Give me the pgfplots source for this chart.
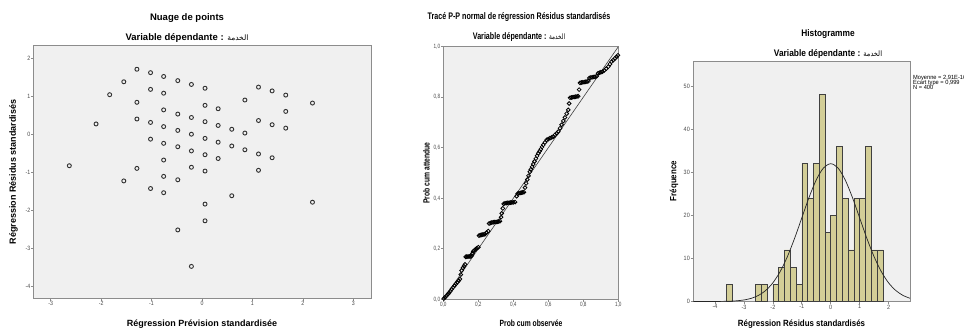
\documentclass[border=0pt]{standalone}
\usepackage{pgfplots}
\pgfplotsset{compat=1.18}
\usepackage{fontspec}
\setmainfont{Liberation Sans}
\newfontfamily\arabicfont[Script=Arabic]{DejaVu Sans}
\newfontfamily\arabicmid[Script=Arabic,FakeStretch=0.75]{DejaVu Sans}
\newfontfamily\arabichist[Script=Arabic,FakeStretch=0.88]{DejaVu Sans}
\newfontfamily\midfont[FakeStretch=0.75]{Liberation Sans}
\newfontfamily\histfont[FakeStretch=0.88]{Liberation Sans}
\newfontfamily\tickfont[FakeStretch=0.85]{Liberation Sans}
\newfontfamily\statfont[FakeStretch=0.95]{Liberation Sans}
\TeXXeTstate=1
\newcommand{\fs}[1]{\fontsize{#1}{#1}\selectfont}
\definecolor{panelbg}{HTML}{F0F0F0}
\definecolor{framecol}{HTML}{8C8C8C}
\definecolor{tickcol}{HTML}{4A4A4A}
\definecolor{barfill}{HTML}{D3CE97}
\definecolor{markcol}{HTML}{303030}
\pgfplotsset{
  spss/.style={
    scale only axis, anchor=south west,
    axis background/.style={fill=panelbg},
    axis line style={draw=framecol, line width=0.9bp},
    tick style={draw=framecol, line width=0.6bp},
    major tick length=2.5bp, tick align=outside,
    xtick pos=left, ytick pos=left,
    xticklabel style={font={\tickfont\fs{6.2bp}}, text=tickcol, inner sep=0.5bp},
    yticklabel style={font={\tickfont\fs{6.2bp}}, text=tickcol, inner sep=0.5bp},
  }
}
\begin{document}
\begin{tikzpicture}
\path[use as bounding box] (0,0) rectangle (964bp,329bp);
% ---------------- scatter ----------------
\begin{axis}[spss, at={(33.5bp,30.7bp)}, width=337.5bp, height=252.6bp,
  xmin=-3.34, xmax=3.35, ymin=-4.32, ymax=2.33,
  xtick={-3,-2,-1,0,1,2,3}, xticklabels={-3,-2,-1,0,1,2,3},
  ytick={-4,-3,-2,-1,0,1,2}, yticklabels={-4,-3,-2,-1,0,1,2}]
\addplot[only marks, mark=o, mark size=2bp, mark options={draw=markcol, line width=0.9bp}] coordinates {
(-1.29,1.71) (-1.55,1.38) (-1.83,1.04) (-1.02,1.62) (-0.76,1.52) (-0.48,1.41)
(-0.21,1.31) (0.06,1.21) (-1.02,1.18) (-0.76,1.08) (-1.29,0.84) (0.85,0.90)
(1.12,1.24) (1.39,1.14) (1.66,1.03) (2.19,0.82) (0.06,0.76) (0.32,0.67)
(-0.76,0.64) (-0.48,0.53) (-0.21,0.44) (0.06,0.33) (0.32,0.23) (0.59,0.13)
(0.85,0.03) (1.12,0.36) (1.39,0.25) (1.66,0.16) (1.66,0.60) (-2.10,0.27)
(-1.29,0.40) (-1.02,0.31) (-0.76,0.20) (-0.48,0.10) (-0.21,0.0) (0.06,-0.11)
(0.32,-0.21) (0.59,-0.31) (0.85,-0.41) (1.12,-0.52) (1.39,-0.62) (-1.02,-0.13)
(-0.76,-0.24) (-0.48,-0.33) (-0.21,-0.44) (0.06,-0.54) (0.32,-0.64) (-0.76,-0.68)
(-0.21,-0.87) (0.06,-0.97) (-1.29,-0.90) (1.12,-0.95) (-2.63,-0.83) (-1.55,-1.23)
(-0.76,-1.11) (-0.48,-1.20) (-1.02,-1.43) (-0.76,-1.54) (0.59,-1.62) (0.06,-1.84)
(2.19,-1.79) (0.06,-2.28) (-0.48,-2.52) (-0.21,-3.48)
};
\end{axis}
% ---------------- P-P plot ----------------
\begin{axis}[spss, at={(443.3bp,29.7bp)}, width=175bp, height=252.6bp,
  xmin=0, xmax=1, ymin=0, ymax=1,
  xticklabel style={font={\midfont\fs{6.2bp}}}, yticklabel style={font={\midfont\fs{6.2bp}}},
  xtick={0,0.2,0.4,0.6,0.8,1}, xticklabels={{0,0},{0,2},{0,4},{0,6},{0,8},{1,0}},
  ytick={0,0.2,0.4,0.6,0.8,1}, yticklabels={{0,0},{0,2},{0,4},{0,6},{0,8},{1,0}}]
\addplot[draw=black!75, line width=0.6bp] coordinates {(0,0) (1,1)};
\addplot[only marks, mark=o, mark size=1.9bp, mark options={draw=black, line width=0.8bp}] coordinates {
(0.003,0.003) (0.010,0.008) (0.018,0.014) (0.026,0.020) (0.033,0.026) (0.040,0.032)
(0.048,0.040) (0.056,0.047) (0.064,0.054) (0.072,0.061) (0.080,0.067) (0.088,0.074)
(0.095,0.080) (0.100,0.098) (0.105,0.114) (0.112,0.124) (0.118,0.131) (0.124,0.138)
(0.128,0.168) (0.134,0.169) (0.141,0.169) (0.148,0.170) (0.155,0.170) (0.162,0.172)
(0.167,0.182) (0.171,0.190) (0.178,0.194) (0.185,0.198) (0.192,0.202) (0.200,0.206)
(0.204,0.252) (0.211,0.254) (0.218,0.255) (0.225,0.256) (0.232,0.257) (0.238,0.258)
(0.247,0.264) (0.257,0.270) (0.262,0.300) (0.270,0.302) (0.278,0.304) (0.286,0.305)
(0.294,0.306) (0.302,0.306) (0.310,0.307) (0.317,0.308) (0.324,0.309) (0.330,0.325)
(0.334,0.340) (0.340,0.360) (0.345,0.378) (0.352,0.380) (0.360,0.381) (0.368,0.382)
(0.376,0.382) (0.384,0.383) (0.392,0.383) (0.400,0.384) (0.410,0.385) (0.419,0.408)
(0.425,0.418) (0.432,0.420) (0.440,0.421) (0.447,0.422) (0.454,0.423) (0.461,0.424)
(0.467,0.442) (0.473,0.459) (0.480,0.474) (0.487,0.489) (0.495,0.505) (0.500,0.514)
(0.507,0.524) (0.514,0.535) (0.521,0.546) (0.529,0.557) (0.536,0.568) (0.543,0.578)
(0.550,0.586) (0.557,0.594) (0.564,0.603) (0.571,0.611) (0.581,0.621) (0.591,0.631)
(0.600,0.634) (0.610,0.638) (0.620,0.641) (0.629,0.644) (0.638,0.651) (0.648,0.657)
(0.657,0.664) (0.667,0.677) (0.676,0.691) (0.686,0.706) (0.695,0.720) (0.705,0.735)
(0.714,0.750) (0.719,0.775) (0.724,0.798) (0.732,0.799) (0.740,0.800) (0.748,0.801)
(0.756,0.802) (0.764,0.803) (0.771,0.804) (0.776,0.830) (0.781,0.857) (0.789,0.858)
(0.797,0.859) (0.805,0.860) (0.813,0.861) (0.821,0.862) (0.829,0.864) (0.835,0.876)
(0.843,0.878) (0.851,0.879) (0.860,0.880) (0.868,0.881) (0.877,0.883) (0.885,0.895)
(0.893,0.897) (0.901,0.899) (0.910,0.901) (0.920,0.906) (0.931,0.913) (0.943,0.921)
(0.952,0.931) (0.962,0.941) (0.971,0.947) (0.981,0.954) (0.990,0.960) (0.998,0.966)
};
\end{axis}
% ---------------- histogram ----------------
\begin{axis}[spss, at={(693bp,27.5bp)}, width=217bp, height=240.2bp,
  xmin=-4.76, xmax=2.74, ymin=0, ymax=55.7,
  xticklabel style={font={\histfont\fs{6.2bp}}}, yticklabels={0,10,20,30,40,50},
  yticklabel style={font={\histfont\fs{6.2bp}}},
  xtick={-4,-3,-2,-1,0,1,2}, xticklabels={-4,-3,-2,-1,0,1,2},
  ytick={0,10,20,30,40,50}]
\addplot[ybar interval, fill=barfill, draw=black!75, line width=0.5bp] coordinates {(-3.6,4) (-3.4,4)};
\addplot[ybar interval, fill=barfill, draw=black!75, line width=0.5bp] coordinates {(-2.6,4) (-2.4,4) (-2.2,4)};
\addplot[ybar interval, fill=barfill, draw=black!75, line width=0.5bp] coordinates {
(-2.0,4) (-1.8,8) (-1.6,12) (-1.4,8) (-1.2,4) (-1.0,32) (-0.8,24) (-0.6,32) (-0.4,48)
(-0.2,16) (0,20) (0.2,36) (0.4,24) (0.6,12) (0.8,24) (1.0,24) (1.2,36) (1.4,12) (1.6,12) (1.8,12)};
\addplot[smooth, draw=black!85, line width=0.7bp] coordinates {
(-4.75,0.0004) (-4.5,0.0013) (-4.25,0.0038) (-4,0.0107) (-3.75,0.028) (-3.5,0.070)
(-3.25,0.163) (-3,0.355) (-2.75,0.728) (-2.5,1.403) (-2.25,2.543) (-2,4.324)
(-1.75,6.911) (-1.5,10.37) (-1.25,14.63) (-1,19.38) (-0.75,24.12) (-0.5,28.20)
(-0.25,30.97) (0,31.95) (0.25,30.97) (0.5,28.20) (0.75,24.12) (1,19.38)
(1.25,14.63) (1.5,10.37) (1.75,6.911) (2,4.324) (2.25,2.543) (2.5,1.403) (2.74,0.75)};
\end{axis}
% ---------------- texts ----------------
\node[anchor=base, font={\bfseries\fs{9.5bp}}] at (187bp,308.5bp) {Nuage de points};
\node[anchor=base, font={\bfseries\fs{9.5bp}}] at (187bp,288bp) {Variable dépendante : {\arabicfont\mdseries\fs{7.5bp}\beginR الخدمة\endR}};
\node[anchor=base, font={\bfseries\fs{9bp}}] at (202bp,2.5bp) {Régression Prévision standardisée};
\node[rotate=90, anchor=center, font={\bfseries\fs{9bp}}] at (13.5bp,157bp) {Régression Résidus standardisés};
\node[anchor=base, font={\midfont\bfseries\fs{9.5bp}}] at (519bp,309bp) {Tracé P-P normal de régression Résidus standardisés};
\node[anchor=base, font={\midfont\bfseries\fs{9.5bp}}] at (519bp,289bp) {Variable dépendante : {\arabicmid\mdseries\fs{7.5bp}\beginR الخدمة\endR}};
\node[anchor=base, font={\midfont\bfseries\fs{9bp}}] at (531bp,3bp) {Prob cum observée};
\node[rotate=90, anchor=center, font={\midfont\bfseries\fs{9bp}}] at (426.5bp,156bp) {Prob cum attendue};
\node[anchor=base, font={\histfont\bfseries\fs{9.5bp}}] at (828bp,292bp) {Histogramme};
\node[anchor=base, font={\histfont\bfseries\fs{9.5bp}}] at (828bp,272bp) {Variable dépendante : {\arabichist\mdseries\fs{7.5bp}\beginR الخدمة\endR}};
\node[anchor=base, font={\histfont\bfseries\fs{9bp}}] at (801.5bp,2.5bp) {Régression Résidus standardisés};
\node[rotate=90, anchor=center, font={\histfont\bfseries\fs{9bp}}] at (674bp,148bp) {Fréquence};
\node[anchor=base west, inner sep=0pt, font={\statfont\fs{6bp}}] at (913bp,249bp) {Moyenne = 2,91E-16};
\node[anchor=base west, inner sep=0pt, font={\statfont\fs{6bp}}] at (913bp,244.2bp) {Ecart type = 0,999};
\node[anchor=base west, inner sep=0pt, font={\statfont\fs{6bp}}] at (913bp,239.4bp) {N = 400};
\end{tikzpicture}
\end{document}
